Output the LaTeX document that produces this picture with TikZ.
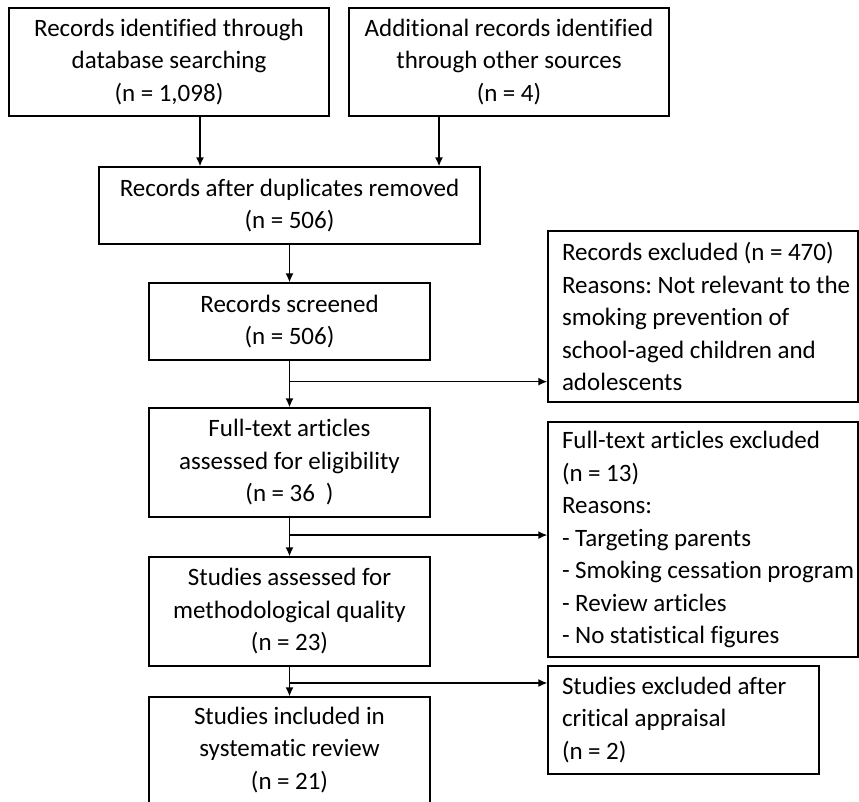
\documentclass[tikz,border=0pt]{standalone}
\usepackage{fontspec}
\setmainfont{Carlito}[Ligatures=NoCommon]
\frenchspacing
\hyphenpenalty=10000
\exhyphenpenalty=10000
\usetikzlibrary{arrows.meta,calc}

\begin{document}
\begin{tikzpicture}[x=1pt, y=-1pt, line width=1.4pt,
    >={Latex[length=9pt,width=8pt]},
    box/.style={draw, inner xsep=14pt, inner ysep=0pt, align=center,
                font=\fontsize{25}{32.5}\selectfont,
                execute at begin node={\spaceskip=0.22em\relax}},
    side/.style={box, align=left}]

  \useasboundingbox (0,0) rectangle (859,801);
  \clip (0,0) rectangle (859,801);

  \node[box, text width=292pt, minimum height=108pt] (ident)    at (169,62)
        {Records identified through\\database searching\\(n = 1,098)};
  \node[box, text width=292pt, minimum height=108pt] (other)    at (509,62)
        {Additional records identified\\through other sources\\(n = 4)};
  \node[box, text width=353pt, minimum height=77pt]  (dupl)     at (289.5,205.5)
        {Records after duplicates removed\\(n = 506)};
  \node[box, text width=253pt, minimum height=77pt]  (screened) at (289.5,321.5)
        {Records screened\\(n = 506)};
  \node[box, text width=253pt, minimum height=109pt] (fulltext) at (289.5,462.5)
        {Full-text articles\\assessed for eligibility\\(n = 36~~)};
  \node[box, text width=253pt, minimum height=109pt] (quality)  at (289.5,611.5)
        {Studies assessed for\\methodological quality\\(n = 23)};
  \node[box, text width=253pt, minimum height=106pt] (included) at (289.5,750)
        {Studies included in\\systematic review\\(n = 21)};

  \node[side, text width=282pt, minimum height=171pt] (excl1) at (703,316.5)
        {Records~excluded~(n~=~470)\\Reasons:~Not~relevant~to~the\\smoking prevention of\\school-aged~children~and\\adolescents};
  \node[side, text width=282pt, minimum height=235pt] (excl2) at (703,539.5)
        {Full-text~articles~excluded\\(n = 13)\\Reasons:\\- Targeting parents\\-~Smoking~cessation~program\\- Review articles\\- No statistical figures};
  \node[side, text width=243pt, minimum height=108pt] (excl3) at (683.5,720)
        {Studies excluded after\\critical appraisal\\(n = 2)};

  % main flow
  \draw[->] ([xshift=31pt]ident.south)  -- ([xshift=31pt]ident.south |- dupl.north);
  \draw[->] ([xshift=-70pt]other.south) -- ([xshift=-70pt]other.south |- dupl.north);
  \draw[->] (dupl)     -- (screened);
  \draw[->] (screened) -- (fulltext);
  \draw[->] (fulltext) -- (quality);
  \draw[->] (quality)  -- (included);

  % exclusions
  \coordinate (b1) at ($(screened.south)!0.45!(fulltext.north)$);
  \coordinate (b2) at ($(fulltext.south)!0.45!(quality.north)$);
  \coordinate (b3) at ($(quality.south)!0.55!(included.north)$);
  \draw[->] (b1) -- (b1 -| excl1.west);
  \draw[->] (b2) -- (b2 -| excl2.west);
  \draw[->] (b3) -- (b3 -| excl3.west);

\end{tikzpicture}
\end{document}
